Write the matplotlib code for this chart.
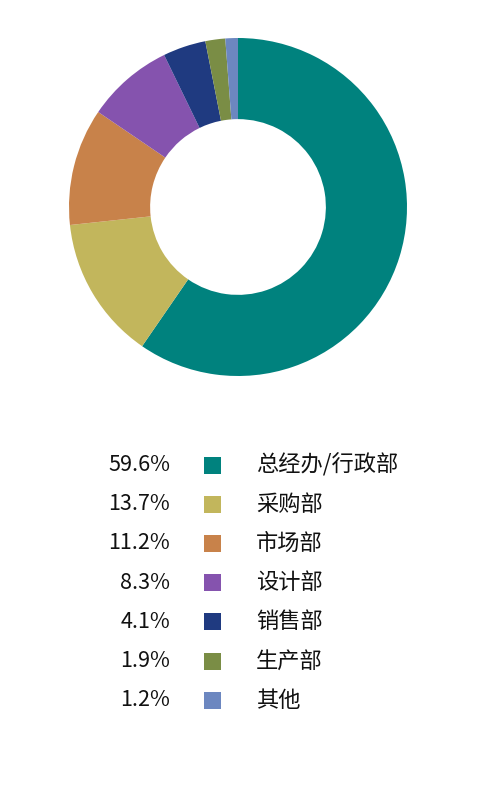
import matplotlib
matplotlib.use('Agg')
import matplotlib.pyplot as plt
from matplotlib.patches import Rectangle

plt.rcParams['font.family'] = ['Noto Sans CJK SC', 'DejaVu Sans']

#  ############################# Data ###################################

labels = ['总经办/行政部', '采购部', '市场部', '设计部', '销售部', '生产部', '其他']
shares = [59.6, 13.7, 11.2, 8.3, 4.1, 1.9, 1.2]
colors = ['#00827E', '#C2B65C', '#C8824A', '#8553AE', '#1F3A80', '#7A8D45', '#6C87C0']

#  ############################# Plot ###################################

W, H = 491, 785
fig = plt.figure(figsize=(W / 100, H / 100), dpi=100)

# donut, centre (238, 207) px, radius 169 px
cx, cy, r = 238, 207, 169
ax = fig.add_axes([(cx - r) / W, (H - cy - r) / H, 2 * r / W, 2 * r / H])
ax.pie(shares, colors=colors, startangle=90, counterclock=False,
       radius=1.0, wedgeprops=dict(width=0.48, linewidth=0))
ax.set_xlim(-1, 1)
ax.set_ylim(-1, 1)
ax.set_aspect('equal')
ax.axis('off')

# legend in pixel coordinates
lax = fig.add_axes([0, 0, 1, 1])
lax.set_xlim(0, W)
lax.set_ylim(H, 0)
lax.axis('off')

y0, dy = 465, 39.2
sq = 17
for i, (lab, val, col) in enumerate(zip(labels, shares, colors)):
    y = y0 + i * dy
    lax.text(170, y, f'{val:.1f}%', ha='right', va='center',
             fontsize=15.5, color='#111111')
    lax.add_patch(Rectangle((204, y - sq / 2), sq, sq, color=col, lw=0))
    lax.text(256, y, lab, ha='left', va='center',
             fontsize=16, color='#111111')

plt.savefig('out.png', dpi=100)
